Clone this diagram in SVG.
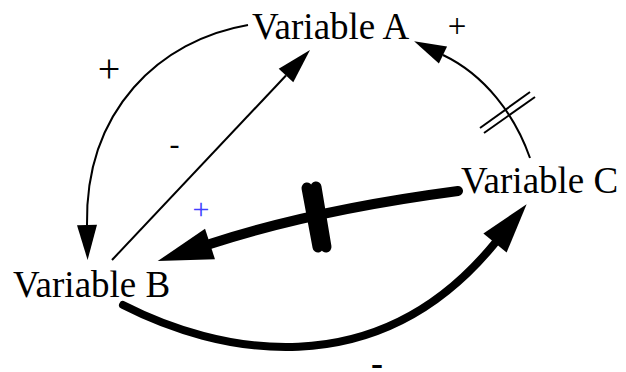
<svg xmlns="http://www.w3.org/2000/svg" width="626" height="372" viewBox="0 0 626 372">
<style>
text{font-family:"Liberation Serif","DejaVu Serif","Times New Roman",serif}
.node{font-size:37px;fill:#000}
.lbl{fill:#000;text-anchor:middle}
.thin{fill:none;stroke:#000;stroke-width:2}
.thick{fill:none;stroke:#000;stroke-linecap:round}
.hash{fill:none;stroke:#000;stroke-width:2}
</style>
<defs>
<marker id="ah" markerUnits="userSpaceOnUse" markerWidth="36" markerHeight="20" refX="0" refY="10" orient="auto" overflow="visible">
<path d="M0,0 L35,10 L0,20 z" fill="#000"/>
</marker>
<marker id="ahs" markerUnits="userSpaceOnUse" markerWidth="34" markerHeight="20" refX="0" refY="9.5" orient="auto" overflow="visible">
<path d="M0,0 L32,9.5 L0,19 z" fill="#000"/>
</marker>
<marker id="ahb" markerUnits="userSpaceOnUse" markerWidth="56" markerHeight="32" refX="0" refY="16" orient="auto" overflow="visible">
<path d="M0,0 L55,16 L0,32 z" fill="#000"/>
</marker>
<marker id="ahb2" markerUnits="userSpaceOnUse" markerWidth="52" markerHeight="30" refX="0" refY="15" orient="auto" overflow="visible">
<path d="M0,0 L50,15 L0,30 z" fill="#000"/>
</marker>
</defs>
<g id="connectors">
<path id="a-to-b" class="thin" d="M248,25 C160,40 85,110 87,225" marker-end="url(#ah)"/>
<path id="b-to-a" class="thin" d="M112,260 L286,75.5" marker-end="url(#ah)"/>
<path id="c-to-a" class="thin" d="M530,158 C515,115 485,75 443,55" marker-end="url(#ahs)"/>
<g id="c-to-a-delay">
<line class="hash" x1="480" y1="128" x2="530" y2="92"/>
<line class="hash" x1="484" y1="133" x2="535" y2="97"/>
</g>
<path id="c-to-b" class="thick" stroke-width="10" d="M458,191 Q314,210 210,244" marker-end="url(#ahb)"/>
<g id="c-to-b-delay">
<line class="thick" stroke-width="11" x1="307" y1="188" x2="318" y2="247"/>
<line class="thick" stroke-width="11" x1="316" y1="187" x2="326" y2="247"/>
</g>
<path id="b-to-c" class="thick" stroke-width="8" d="M123,305 C215,352 375,390 495,243" marker-end="url(#ahb2)"/>
</g>
<g id="node-a"><text class="node" x="252" y="39">Variable A</text></g>
<g id="node-b"><text class="node" x="13" y="297">Variable B</text></g>
<g id="node-c"><text class="node" x="461" y="193">Variable C</text></g>
<g id="labels">
<text class="lbl" x="109" y="82" font-size="40">+</text>
<text class="lbl" x="457" y="37" font-size="33">+</text>
<text class="lbl" x="174.5" y="154" font-size="30">-</text>
<text class="lbl" x="201" y="219" font-size="30" style="fill:#4040ff">+</text>
<text class="lbl" x="377" y="375" font-size="36" font-weight="bold">-</text>
</g>
</svg>
